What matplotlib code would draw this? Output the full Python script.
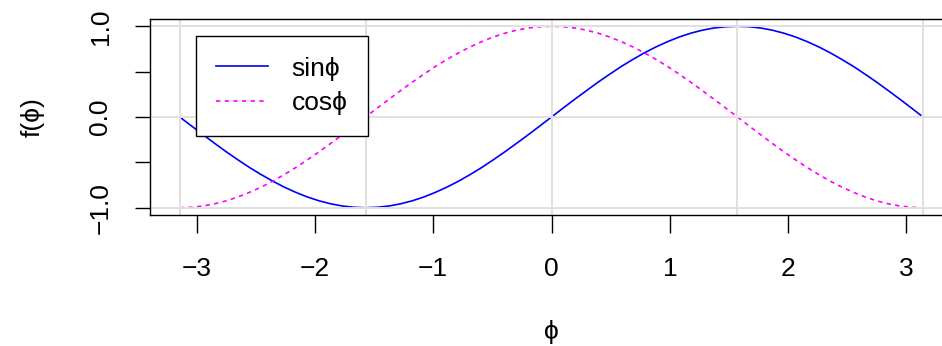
import matplotlib
matplotlib.use('Agg')
import matplotlib.pyplot as plt

plt.rcParams['font.family'] = ['Liberation Sans', 'DejaVu Sans']

# phi sampled from -pi to pi
phi = [-3.142, -3.043, -2.945, -2.847, -2.749, -2.651, -2.553, -2.454,
       -2.356, -2.258, -2.160, -2.062, -1.963, -1.865, -1.767, -1.669,
       -1.571, -1.473, -1.374, -1.276, -1.178, -1.080, -0.982, -0.884,
       -0.785, -0.687, -0.589, -0.491, -0.393, -0.295, -0.196, -0.098,
       0.000, 0.098, 0.196, 0.295, 0.393, 0.491, 0.589, 0.687,
       0.785, 0.884, 0.982, 1.080, 1.178, 1.276, 1.374, 1.473,
       1.571, 1.669, 1.767, 1.865, 1.963, 2.062, 2.160, 2.258,
       2.356, 2.454, 2.553, 2.651, 2.749, 2.847, 2.945, 3.043, 3.120]
sin_vals = [0.000, -0.098, -0.195, -0.290, -0.383, -0.471, -0.556, -0.634,
            -0.707, -0.773, -0.831, -0.882, -0.924, -0.957, -0.981, -0.995,
            -1.000, -0.995, -0.981, -0.957, -0.924, -0.882, -0.831, -0.773,
            -0.707, -0.634, -0.556, -0.471, -0.383, -0.290, -0.195, -0.098,
            0.000, 0.098, 0.195, 0.290, 0.383, 0.471, 0.556, 0.634,
            0.707, 0.773, 0.831, 0.882, 0.924, 0.957, 0.981, 0.995,
            1.000, 0.995, 0.981, 0.957, 0.924, 0.882, 0.831, 0.773,
            0.707, 0.634, 0.556, 0.471, 0.383, 0.290, 0.195, 0.098, 0.020]
cos_vals = [-1.000, -0.995, -0.981, -0.957, -0.924, -0.882, -0.831, -0.773,
            -0.707, -0.634, -0.556, -0.471, -0.383, -0.290, -0.195, -0.098,
            0.000, 0.098, 0.195, 0.290, 0.383, 0.471, 0.556, 0.634,
            0.707, 0.773, 0.831, 0.882, 0.924, 0.957, 0.981, 0.995,
            1.000, 0.995, 0.981, 0.957, 0.924, 0.882, 0.831, 0.773,
            0.707, 0.634, 0.556, 0.471, 0.383, 0.290, 0.195, 0.098,
            0.000, -0.098, -0.195, -0.290, -0.383, -0.471, -0.556, -0.634,
            -0.707, -0.773, -0.831, -0.882, -0.924, -0.957, -0.981, -0.995, -1.000]

grid_x = [-3.1416, -1.5708, 0.0, 1.5708, 3.1416]
grid_y = [-1.0, 0.0, 1.0]
xticks = [-3, -2, -1, 0, 1, 2, 3]
yticks = [-1.0, -0.5, 0.0, 0.5, 1.0]
ytick_labels = ['\u22121.0', '', '0.0', '', '1.0']

W, H = 942, 346
fig = plt.figure(figsize=(W / 100, H / 100), dpi=100)
ax = fig.add_axes([150 / W, 131 / H, (953 - 150) / W, (215 - 19) / H])

ax.plot(phi, sin_vals, color='blue', lw=1.2, label='sin\u03d5', zorder=2)
ax.plot(phi, cos_vals, color='magenta', lw=1.2, linestyle=(0, (2.6, 2.6)),
        label='cos\u03d5', zorder=2)

for gx in grid_x:
    ax.axvline(gx, color='#e0e0e0', lw=1.4, zorder=3)
for gy in grid_y:
    ax.axhline(gy, color='#e0e0e0', lw=1.4, zorder=3)

ax.set_xlim(-3.393, 3.393)
ax.set_ylim(-1.08, 1.08)

FONTSIZE = 19
ax.set_xticks(xticks)
ax.set_yticks(yticks)
ax.set_yticklabels(ytick_labels, rotation=90, va='center')
ax.tick_params(axis='x', length=13, width=1, pad=17, labelsize=FONTSIZE)
ax.tick_params(axis='y', length=11, width=1, pad=16, labelsize=FONTSIZE)
for s in ax.spines.values():
    s.set_linewidth(1)
    s.set_zorder(4)

fig.text(551.7 / W, 1 - 332 / H, '\u03d5', ha='center', va='center', fontsize=FONTSIZE)
fig.text(33 / W, 1 - 117 / H, 'f(\u03d5)', ha='center', va='center',
         rotation=90, fontsize=FONTSIZE)

leg = ax.legend(loc='upper left', bbox_to_anchor=(195.7 / W, 1 - 36 / H),
                bbox_transform=fig.transFigure, borderaxespad=0, fontsize=FONTSIZE,
                fancybox=False, framealpha=1, edgecolor='black', borderpad=0.78,
                handlelength=1.96, handletextpad=0.9, labelspacing=0.4)
leg.get_frame().set_linewidth(1)
leg.set_zorder(5)

fig.savefig('out.png', dpi=100)
